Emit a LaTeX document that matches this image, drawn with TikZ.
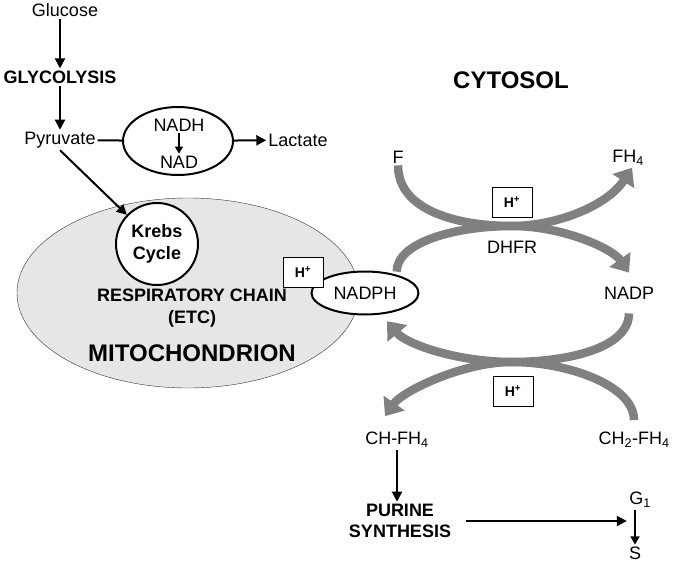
\documentclass[tikz,border=0pt]{standalone}
\usepackage{fontspec}
\setmainfont{Liberation Sans}
\usetikzlibrary{arrows.meta,shapes.geometric}
\definecolor{bandgray}{RGB}{128,128,128}
\definecolor{mitogray}{RGB}{230,230,230}

\begin{document}
\begin{tikzpicture}[x=1pt,y=1pt,
  lbl/.style={font=\fontsize{18}{21.6}\selectfont, inner sep=2pt},
  blbl/.style={font=\fontsize{18}{21.6}\selectfont\bfseries, inner sep=2pt, align=center},
  biglbl/.style={font=\fontsize{24}{28}\selectfont\bfseries, inner sep=2pt},
  hbox/.style={draw, fill=white, minimum width=40pt, minimum height=30pt, inner sep=0pt, font=\fontsize{14}{16}\selectfont\bfseries},
  flow/.style={line width=2pt, -{Triangle[length=10pt,width=10pt]}},
  band/.style={line width=8.5pt, draw=bandgray, -{Triangle[width=25pt,length=16pt]}}
]
\useasboundingbox (0,0) rectangle (674,-564);

% Glycolysis
\node[lbl] (glucose) at (65,-10) {Glucose};
\node[blbl] (glyco) at (60,-77) {GLYCOLYSIS};
\node[lbl] (pyruvate) at (60,-140) {Pyruvate};
\node[draw, ellipse, line width=2pt, minimum width=110pt, minimum height=68pt] (ferment) at (178,-141) {};
\node[lbl] (nadh) at (179,-125) {NADH};
\node[lbl] (nad) at (179,-162) {NAD};
\node[lbl] (lactate) at (298,-140) {Lactate};

\draw[flow] (glyco |- glucose.south) -- (glyco);
\draw[flow] (glyco) -- (pyruvate);
\draw[line width=2pt] (pyruvate) -- (ferment);
\draw[line width=1.6pt, -{Triangle[length=7pt,width=8pt]}] (nadh) -- (nad);
\draw[flow] (ferment) -- (lactate);

% Mitochondrion
\node[draw=black!80, ellipse, fill=mitogray, minimum width=342pt, minimum height=190pt] (mito) at (188,-293) {};
\node[draw, circle, fill=white, line width=2pt, minimum size=82pt, blbl] (krebs) at (157,-244) {Krebs\\Cycle};
\node[blbl] (resp) at (192,-308) {RESPIRATORY CHAIN\\(ETC)};
\node[biglbl] (mitolbl) at (192,-353) {MITOCHONDRION};
\draw[flow] (pyruvate.south) -- (krebs);

% Cytosol
\node[biglbl] (cytosol) at (511,-80) {CYTOSOL};
\node[lbl] (folate) at (398,-157) {F};
\node[lbl] (fhfour) at (628,-158) {FH\textsubscript{4}};
\node[hbox] (hup) at (512,-202) {H\textsuperscript{+}};
\node[lbl] (dhfr) at (512,-247) {DHFR};
\node[lbl] (nadp) at (629,-293) {NADP};
\node[hbox] (hdown) at (513,-391) {H\textsuperscript{+}};
\node[lbl] (chfh) at (397,-440) {CH-FH\textsubscript{4}};
\node[lbl] (chtwo) at (634,-440) {CH\textsubscript{2}-FH\textsubscript{4}};

% NADPH on the mitochondrion
\node[draw, ellipse, fill=white, line width=2pt, minimum width=107pt, minimum height=43pt, lbl] (nadph) at (365,-293) {NADPH};
\node[hbox] (hmito) at (303,-272) {H\textsuperscript{+}};

% DHFR cycles
\coordinate (upmid) at (512,-226);
\coordinate (lowmid) at (512,-362);
\draw[band] (folate.south) to[out=-90, in=180, out distance=45pt, in distance=55pt] (upmid)
  to[out=0, in=237, out distance=45pt, in distance=45pt] ([xshift=4pt]fhfour.south);
\draw[band] ([yshift=3pt]nadph.30) to[out=90, in=180, out distance=30pt, in distance=55pt] (upmid)
  to[out=0, in=125, out distance=50pt, in distance=30pt] ([yshift=12pt]nadp.north);
\draw[band] ([yshift=-12pt]nadp.south) to[out=-90, in=0, out distance=35pt, in distance=55pt] (lowmid)
  to[out=180, in=-50, out distance=55pt, in distance=30pt] ([shift={(-2pt,-8pt)}]nadph.-40);
\draw[band] ([yshift=10pt]chtwo.north) to[out=90, in=0, out distance=35pt, in distance=55pt] (lowmid)
  to[out=180, in=55, out distance=50pt, in distance=30pt] ([shift={(-12pt,14pt)}]chfh.north);

% Purine synthesis and cell cycle
\node[blbl] (purine) at (400,-521) {PURINE\\SYNTHESIS};
\node[lbl] (gone) at (640,-500) {G\textsubscript{1}};
\node[lbl] (sphase) at (635,-553) {S};
\draw[flow] (chfh.south) -- (chfh.south |- purine.north);
\draw[flow, shorten <=13pt] (purine) -- (purine -| sphase.west);
\draw[line width=1.6pt, -{Triangle[length=8pt,width=9pt]}] (gone.south -| sphase) -- (sphase);
\end{tikzpicture}
\end{document}
